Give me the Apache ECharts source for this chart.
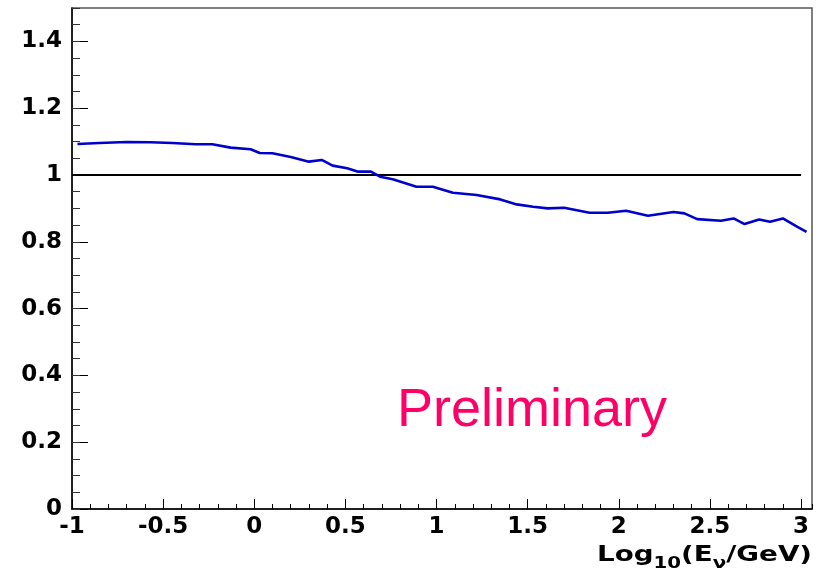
<!DOCTYPE html>
<html>
<head>
<meta charset="utf-8">
<script src="https://cdn.jsdelivr.net/npm/echarts@6/dist/echarts.min.js"></script>
<style>html,body{margin:0;padding:0;background:#fff;}#c{width:816px;height:571px;}</style>
</head>
<body>
<div id="c"></div>
<script>
// log10(E_nu / GeV)
const energyLog = [-0.97, -0.85, -0.70, -0.57, -0.45, -0.32, -0.23, -0.13, -0.02, 0.03, 0.10, 0.20, 0.30, 0.37, 0.43, 0.51, 0.57, 0.64, 0.69, 0.76, 0.89, 0.98, 1.09, 1.22, 1.35, 1.44, 1.53, 1.61, 1.70, 1.84, 1.94, 2.04, 2.16, 2.30, 2.36, 2.43, 2.56, 2.63, 2.69, 2.77, 2.83, 2.90, 2.98, 3.03];
const ratio = [1.093, 1.096, 1.099, 1.098, 1.096, 1.092, 1.092, 1.082, 1.077, 1.066, 1.065, 1.054, 1.040, 1.045, 1.028, 1.020, 1.010, 1.010, 0.995, 0.987, 0.965, 0.965, 0.947, 0.940, 0.927, 0.912, 0.905, 0.900, 0.902, 0.887, 0.887, 0.893, 0.878, 0.889, 0.885, 0.868, 0.863, 0.870, 0.853, 0.867, 0.860, 0.870, 0.845, 0.830];
// reference line at ratio = 1
const refX = [-1, 3];
const refY = [1, 1];
const xTickLabels = ['-1', '-0.5', '0', '0.5', '1', '1.5', '2', '2.5', '3'];
const yTickLabels = ['0', '0.2', '0.4', '0.6', '0.8', '1', '1.2', '1.4'];

const chart = echarts.init(document.getElementById('c'));
const labelFont = {fontFamily: '"DejaVu Sans", sans-serif', fontWeight: 'bold', fontSize: 23, color: '#000'};
const xMin = -1, xMax = 3.06, yMin = 0, yMax = 1.5;

chart.setOption({
  animation: false,
  backgroundColor: '#fff',
  grid: {left: 72, right: 4, top: 8, bottom: 62, show: true, borderColor: '#555', borderWidth: 1.5, backgroundColor: '#fff'},
  xAxis: [
    {type: 'value', min: xMin, max: xMax, interval: 0.5, position: 'bottom',
     axisLine: {show: true, onZero: false, lineStyle: {color: '#000', width: 1.5}},
     axisTick: {show: true, inside: true, length: 10, lineStyle: {color: '#000', width: 1}},
     axisLabel: Object.assign({show: true, margin: 7, showMaxLabel: false,
       formatter: function (v) { const i = Math.round((v + 1) / 0.5); return (Math.abs(v - (-1 + i * 0.5)) < 1e-6 && i < xTickLabels.length) ? xTickLabels[i] : ''; }}, labelFont),
     splitLine: {show: false}},
    {type: 'value', min: xMin, max: xMax, interval: 0.1, position: 'bottom',
     axisLine: {show: false, onZero: false}, axisLabel: {show: false}, splitLine: {show: false},
     axisTick: {show: true, inside: true, length: 5, lineStyle: {color: '#000', width: 1}}}
  ],
  yAxis: [
    {type: 'value', min: yMin, max: yMax, interval: 0.2, position: 'left',
     axisLine: {show: true, onZero: false, lineStyle: {color: '#000', width: 1.5}},
     axisTick: {show: true, inside: true, length: 16, lineStyle: {color: '#000', width: 1}},
     axisLabel: Object.assign({show: true, margin: 10, showMaxLabel: false,
       formatter: function (v) { const i = Math.round(v / 0.2); return (Math.abs(v - i * 0.2) < 1e-6 && i < yTickLabels.length) ? yTickLabels[i] : ''; }}, labelFont),
     splitLine: {show: false}},
    {type: 'value', min: yMin, max: yMax, interval: 0.05, position: 'left',
     axisLine: {show: false, onZero: false}, axisLabel: {show: false}, splitLine: {show: false},
     axisTick: {show: true, inside: true, length: 8, lineStyle: {color: '#333', width: 1}}}
  ],
  series: [
    {type: 'line', xAxisIndex: 0, yAxisIndex: 0, data: refX.map((x, i) => [x, refY[i]]),
     showSymbol: false, lineStyle: {color: '#000', width: 1.8}, z: 3},
    {type: 'line', xAxisIndex: 0, yAxisIndex: 0, data: energyLog.map((x, i) => [x, ratio[i]]),
     showSymbol: false, smooth: false, lineStyle: {color: '#0000cc', width: 2.6}, z: 4}
  ],
  graphic: [
    {type: 'text', left: 397, top: 384,
     style: {text: 'Preliminary', fill: '#ff0066', font: '54px "Comic Sans MS", "Liberation Sans", sans-serif'}},
    {type: 'group', x: 812, y: 545, scaleX: 1.32, scaleY: 1,
     children: [
       {type: 'text', x: 0, y: 0,
        style: {
          text: '{a|Log}{s|10}{a|(E}{s|ν}{a|/GeV)}',
          align: 'right', verticalAlign: 'top',
          rich: {
            a: {fontFamily: '"DejaVu Sans", sans-serif', fontWeight: 'bold', fontSize: 21, fill: '#000', lineHeight: 24, verticalAlign: 'top'},
            s: {fontFamily: '"DejaVu Sans", sans-serif', fontWeight: 'bold', fontSize: 15, fill: '#000', lineHeight: 16, padding: [12, 0, 0, 0], verticalAlign: 'top'}
          }
        }}
     ]}
  ]
});
</script>
</body>
</html>
